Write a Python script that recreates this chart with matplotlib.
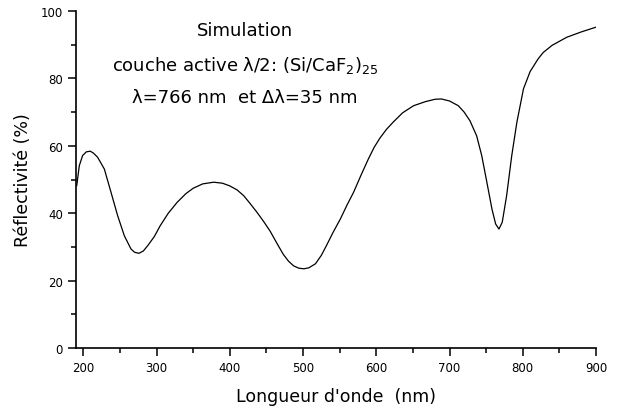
import matplotlib
matplotlib.use("Agg")
import matplotlib.pyplot as plt
from matplotlib.ticker import MultipleLocator

plt.rcParams['font.family'] = ['DejaVu Sans']
plt.rcParams['mathtext.fontset'] = 'dejavusans'

# wavelength (nm) and reflectivity (%)
wavelength = [191, 194.5, 199, 204, 209.5, 214, 219.5, 228.7, 237.8, 246.8, 256,
              265, 270, 276, 282, 288, 297, 305, 316, 328, 340, 350, 363, 378,
              390, 400, 410, 419, 428, 437, 446, 455, 464, 473, 480, 487, 494,
              501, 508, 517, 525, 532, 541, 551, 560, 569, 579, 589, 597, 605,
              614, 623, 636, 651, 667, 680, 689, 700, 712, 720, 728, 737, 744,
              751, 758, 763, 767.5, 772, 778, 785, 792, 801, 810, 821, 828, 840,
              850, 860, 880, 900]
reflectivity = [48.2, 54.1, 57.1, 58.2, 58.4, 57.8, 56.6, 53.1, 46.2, 39.3, 33.3,
                29.4, 28.4, 28.1, 28.8, 30.4, 33.1, 36.3, 40.0, 43.2, 45.8, 47.4,
                48.7, 49.2, 48.9, 48.1, 46.9, 45.2, 42.8, 40.3, 37.6, 34.7, 31.2,
                27.8, 25.8, 24.4, 23.7, 23.5, 23.8, 25.0, 27.5, 30.4, 34.3, 38.3,
                42.4, 46.2, 51.2, 56.0, 59.5, 62.3, 64.9, 67.0, 69.8, 71.9, 73.1,
                73.8, 73.9, 73.3, 71.9, 70.0, 67.4, 63.0, 57.1, 49.2, 41.2, 36.8,
                35.3, 37.3, 45.2, 57.1, 67.0, 76.9, 82.0, 85.8, 87.7, 89.8, 91.0,
                92.2, 93.8, 95.2]

x_ticks = [200, 300, 400, 500, 600, 700, 800, 900]
y_ticks = [0, 20, 40, 60, 80, 100]

annotation_lines = [
    "Simulation",
    "couche active \u03bb/2: (Si/CaF$_2$)$_{25}$",
    "\u03bb=766 nm  et \u0394\u03bb=35 nm",
]

fig = plt.figure(figsize=(6.21, 4.14), dpi=100)
ax = fig.add_axes([0.1224, 0.157, 0.8373, 0.814])

ax.plot(wavelength, reflectivity, color="black", linewidth=0.9)

ax.set_xlim(190, 900)
ax.set_ylim(0, 100)
ax.set_xticks(x_ticks)
ax.set_yticks(y_ticks)
ax.xaxis.set_minor_locator(MultipleLocator(50))
ax.yaxis.set_minor_locator(MultipleLocator(10))
ax.tick_params(which="major", direction="out", length=6, width=1.1, labelsize=8.5)
ax.tick_params(which="minor", direction="out", length=3.5, width=1.1)

for side in ["top", "right"]:
    ax.spines[side].set_visible(False)
for side in ["left", "bottom"]:
    ax.spines[side].set_linewidth(1.2)

ax.set_xlabel("Longueur d'onde  (nm)", fontsize=12.5, labelpad=9)
ax.set_ylabel("R\u00e9flectivit\u00e9 (%)", fontsize=12.5, labelpad=6)

y_positions = [31, 65, 98]
for text, ypix in zip(annotation_lines, y_positions):
    fig.text(245 / 621, 1 - ypix / 414, text, fontsize=13, ha="center", va="center")

fig.savefig("out.png", dpi=100)
